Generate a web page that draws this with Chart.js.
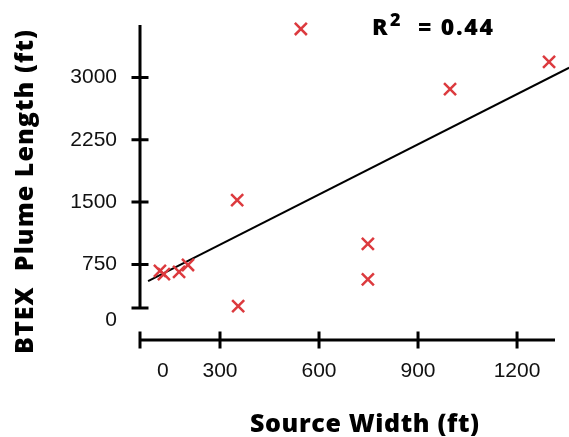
<!DOCTYPE html>
<html>
<head>
<meta charset="utf-8">
<title>BTEX Plume Length vs Source Width</title>
<script src="https://cdn.jsdelivr.net/npm/chart.js@4/dist/chart.umd.min.js"></script>
<style>
  html, body { margin: 0; padding: 0; background: #ffffff; }
  #wrap { width: 569px; height: 437px; }
</style>
</head>
<body>
<div id="wrap"><canvas id="chart" width="569" height="437"></canvas></div>
<script>
// Source width (ft) and BTEX plume length (ft) for each site
const sourceWidth = [118, 130, 176, 203, 355, 352, 545, 748, 748, 997, 1297];
const plumeLength = [671, 634, 659, 743, 249, 1525, 3584, 996, 571, 2860, 3187];

// Least-squares trend line end points
const trendX = [82, 1358];
const trendY = [550, 3118];
const rSquared = '0.44';

// Axis ranges
const xRange = [57.6, 1315];
const yRange = [-160, 3632];
const yAxisEnd = 225;

// Tick labels and the values they sit at
const xTickLabels = ['0', '300', '600', '900', '1200'];
const xTickAt = [127, 300, 600, 900, 1200];
const yTickLabels = ['0', '750', '1500', '2250', '3000'];
const yTickAt = [81, 750, 1500, 2250, 3000];

// Tick marks drawn across the axis lines
const xTickMarks = [xRange[0], 300, 600, 900, 1200];
const yTickMarks = [yAxisEnd, 750, 1500, 2250, 3000];

const points = sourceWidth.map((x, i) => ({ x: x, y: plumeLength[i] }));
const trend = trendX.map((x, i) => ({ x: x, y: trendY[i] }));

const TEXT_FONT = '"Open Sans", Lato, "DejaVu Sans", sans-serif';
const TICK_FONT = '"Liberation Sans", Arial, sans-serif';

// Draw text spread out so that it covers the given width
function fitText(ctx, text, x, y, width) {
  ctx.letterSpacing = '0px';
  const w = ctx.measureText(text).width;
  const extra = (width - w) / Math.max(text.length - 1, 1);
  ctx.letterSpacing = extra.toFixed(2) + 'px';
  ctx.textAlign = 'left';
  ctx.fillText(text, x, y);
  ctx.letterSpacing = '0px';
}

const axesAndText = {
  id: 'axesAndText',
  afterDraw(chart) {
    const ctx = chart.ctx;
    const xs = chart.scales.x, ys = chart.scales.y;
    const ax = xs.getPixelForValue(xRange[0]);
    const ay = ys.getPixelForValue(yRange[0]);
    ctx.save();
    ctx.strokeStyle = '#000000';
    ctx.lineWidth = 3;
    ctx.lineCap = 'butt';

    // y axis line and ticks
    ctx.beginPath();
    ctx.moveTo(ax, ys.getPixelForValue(yRange[1]));
    ctx.lineTo(ax, ys.getPixelForValue(yAxisEnd));
    yTickMarks.forEach(v => {
      const p = ys.getPixelForValue(v);
      ctx.moveTo(ax - 8.5, p);
      ctx.lineTo(ax + 8.5, p);
    });
    ctx.stroke();

    // x axis line and ticks
    ctx.beginPath();
    ctx.moveTo(ax, ay);
    ctx.lineTo(xs.getPixelForValue(xRange[1]), ay);
    xTickMarks.forEach(v => {
      const p = xs.getPixelForValue(v);
      ctx.moveTo(p, ay - 8.5);
      ctx.lineTo(p, ay + 8.5);
    });
    ctx.stroke();

    // axis titles
    ctx.fillStyle = '#000000';
    ctx.textBaseline = 'alphabetic';
    ctx.font = '800 25px ' + TEXT_FONT;
    fitText(ctx, 'Source Width (ft)', 250, 432, 229);
    ctx.save();
    ctx.translate(33, 354);
    ctx.rotate(-Math.PI / 2);
    fitText(ctx, 'BTEX  Plume Length (ft)', 0, 0, 324);
    ctx.restore();

    // R squared note
    ctx.font = '800 23px ' + TEXT_FONT;
    fitText(ctx, 'R', 372, 35, 17);
    ctx.font = '800 18px ' + TEXT_FONT;
    fitText(ctx, '2', 390, 26, 10);
    ctx.font = '800 23px ' + TEXT_FONT;
    fitText(ctx, '= ' + rSquared, 418, 35, 75);
    ctx.restore();
  }
};

new Chart(document.getElementById('chart'), {
  type: 'scatter',
  data: {
    datasets: [
      {
        type: 'line',
        data: trend,
        borderColor: '#000000',
        borderWidth: 2,
        pointRadius: 0,
        fill: false,
        clip: false,
        order: 2
      },
      {
        data: points,
        pointStyle: 'crossRot',
        pointRadius: 8.5,
        pointBorderWidth: 2.5,
        borderColor: '#dc3a3e',
        backgroundColor: '#dc3a3e',
        clip: false,
        order: 1
      }
    ]
  },
  options: {
    responsive: false,
    animation: false,
    events: [],
    layout: { padding: { top: 25, right: 14, left: 0, bottom: 0 } },
    plugins: {
      legend: { display: false },
      tooltip: { enabled: false }
    },
    scales: {
      x: {
        type: 'linear',
        min: xRange[0],
        max: xRange[1],
        grid: { display: false, drawTicks: false },
        border: { display: false },
        afterFit(scale) {
          scale.height = 97;
          scale.paddingLeft = 0;
          scale.paddingRight = 0;
        },
        afterBuildTicks(scale) {
          scale.ticks = xTickAt.map(v => ({ value: v }));
        },
        ticks: {
          padding: 19,
          color: '#111111',
          font: { family: TICK_FONT, size: 21 },
          maxRotation: 0,
          autoSkip: false,
          callback(value, index) { return xTickLabels[index]; }
        }
      },
      y: {
        type: 'linear',
        min: yRange[0],
        max: yRange[1],
        grid: { display: false, drawTicks: false },
        border: { display: false },
        afterFit(scale) {
          scale.width = 140;
          scale.paddingTop = 0;
          scale.paddingBottom = 0;
        },
        afterBuildTicks(scale) {
          scale.ticks = yTickAt.map(v => ({ value: v }));
        },
        ticks: {
          padding: 23,
          color: '#111111',
          font: { family: TICK_FONT, size: 21 },
          autoSkip: false,
          callback(value, index) { return yTickLabels[index]; }
        }
      }
    }
  },
  plugins: [axesAndText]
});
</script>
</body>
</html>
